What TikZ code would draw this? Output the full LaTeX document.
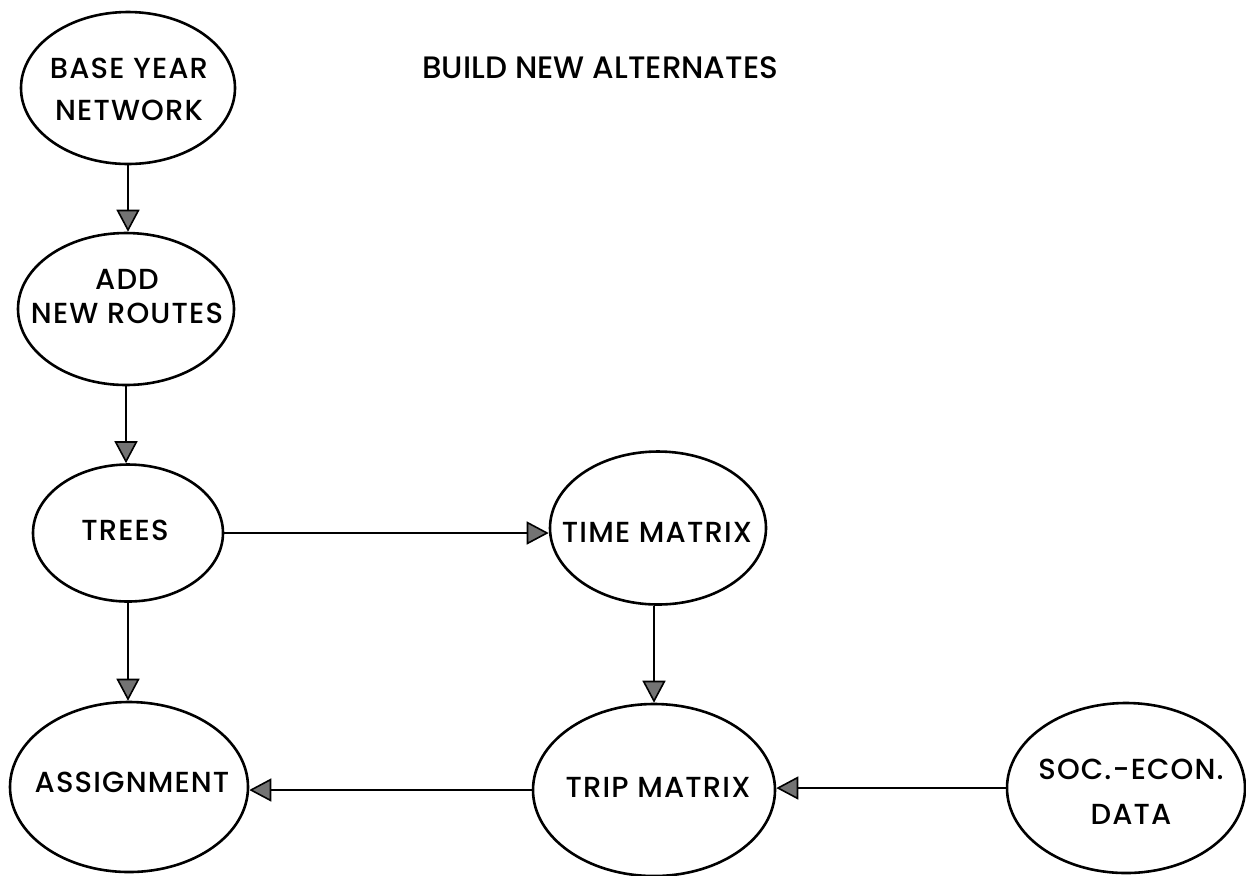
\documentclass[tikz,border=0pt]{standalone}
\usepackage{fontspec}
\setmainfont{Poppins}[UprightFont=* Medium]
\usetikzlibrary{shapes.geometric,arrows.meta}
\begin{document}
\begin{tikzpicture}[x=0.5pt,y=-0.5pt,
  bubble/.style={ellipse,draw=black,line width=1.3pt,inner sep=0pt},
  lbl/.style={align=center,inner sep=0pt,
    font=\fontsize{14.5}{17}\selectfont\addfontfeatures{LetterSpace=4}},
  flow/.style={draw=black,line width=1.1pt,
    -{Triangle[length=11pt,width=11.5pt,fill=black!55,line width=0.8pt]}}]
\useasboundingbox (0,0) rectangle (1246,875);

% heading
\node[anchor=west,inner sep=0pt,font=\fontsize{15.5}{19}\selectfont] (title) at (422,68) {BUILD NEW ALTERNATES};

% process bubbles
\node[bubble,minimum width=107pt,minimum height=76pt] (base)   at (128,88)  {};
\node[bubble,minimum width=108pt,minimum height=76pt] (add)    at (126,309) {};
\node[bubble,minimum width=95pt, minimum height=68.5pt] (trees) at (128,533) {};
\node[bubble,minimum width=108pt,minimum height=76.5pt] (time) at (658,528) {};
\node[bubble,minimum width=119pt,minimum height=85pt] (assign) at (129,787) {};
\node[bubble,minimum width=121pt,minimum height=86pt] (trip)   at (654,790) {};
\node[bubble,minimum width=119pt,minimum height=85pt] (soc)    at (1126,788) {};

% bubble labels
\node[lbl] (baseT)   at (129,89)  {BASE YEAR\\[4pt]NETWORK};
\node[lbl] (addT)    at (127,296) {ADD\\NEW ROUTES};
\node[lbl] (treesT)  at (125,530) {TREES};
\node[lbl] (timeT)   at (657,532) {TIME MATRIX};
\node[lbl] (assignT) at (132,782) {ASSIGNMENT};
\node[lbl] (tripT)   at (658,787) {TRIP MATRIX};
\node[lbl] (socT)    at (1131,792) {SOC.-ECON.\\[5.5pt]DATA};

% connectors
\draw[flow] (base.south) -- (base.south |- add.north);
\draw[flow] (add.south) -- (add.south |- trees.north);
\draw[flow] (trees.east) -- (trees.east -| time.west);
\draw[flow] (trees.south) -- (trees.south |- assign.north);
\draw[flow] (trip.north |- time.south) -- (trip.north);
\draw[flow] (trip.west) -- (trip.west -| assign.east);
\draw[flow] (soc.west) -- (soc.west -| trip.east);
\end{tikzpicture}
\end{document}
